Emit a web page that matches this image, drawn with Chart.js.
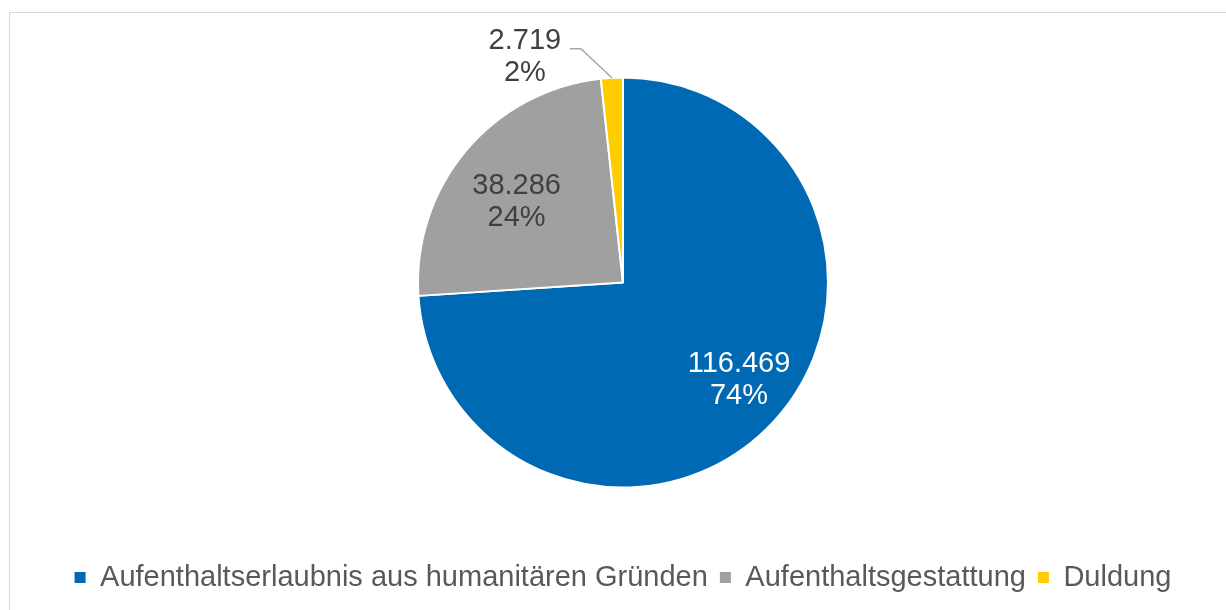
<!DOCTYPE html>
<html lang="de">
<head>
<meta charset="utf-8">
<title>Schutzstatus</title>
<script src="https://cdn.jsdelivr.net/npm/chart.js@4.4.1/dist/chart.umd.min.js"></script>
<style>
    html, body { margin: 0; padding: 0; background: #fff; }
    .frame {
        position: absolute;
        left: 9px;
        top: 12px;
        width: 1217px;
        height: 598px;
        border-top: 1px solid #d9d9d9;
        border-left: 1px solid #d9d9d9;
        box-sizing: border-box;
    }
</style>
</head>
<body>
<div class="frame">
    <canvas id="statusChart"></canvas>
</div>
<script>
const categories = ['Aufenthaltserlaubnis aus humanitären Gründen', 'Aufenthaltsgestattung', 'Duldung'];
const counts = [116469, 38286, 2719];
const sliceColors = ['#0069b4', '#a0a0a0', '#ffcc00'];
const labelColors = ['#ffffff', '#404040', '#404040'];

const FONT = '"Liberation Sans", Arial, Helvetica, sans-serif';
// how far out (share of the radius) the inside labels sit
const labelRadius = [0.74, 0.65];

function formatCount(n) {
    return n.toLocaleString('de-DE');
}

// data labels: value and share, the small slice gets an outside label with a leader line
const sliceLabels = {
    id: 'sliceLabels',
    afterDatasetsDraw(chart) {
        const ctx = chart.ctx;
        const meta = chart.getDatasetMeta(0);
        const total = counts.reduce((a, b) => a + b, 0);
        ctx.save();
        ctx.font = '29px ' + FONT;
        ctx.textBaseline = 'middle';
        meta.data.forEach((arc, i) => {
            const p = arc.getProps(['x', 'y', 'startAngle', 'endAngle', 'outerRadius']);
            const mid = (p.startAngle + p.endAngle) / 2;
            const pct = Math.round(counts[i] / total * 100) + '%';
            const lines = [formatCount(counts[i]), pct];
            ctx.fillStyle = labelColors[i];
            if (p.endAngle - p.startAngle > 0.3) {
                const a = mid - 3 * Math.PI / 180;
                const r = p.outerRadius * labelRadius[i];
                const cx = p.x + Math.cos(a) * r;
                const cy = p.y + Math.sin(a) * r;
                ctx.textAlign = 'center';
                ctx.fillText(lines[0], cx, cy - 16);
                ctx.fillText(lines[1], cx, cy + 16);
            } else {
                const ex = p.x + Math.cos(mid) * p.outerRadius;
                const ey = p.y + Math.sin(mid) * p.outerRadius;
                const kx = ex - 31;
                const ky = ey - 29;
                ctx.strokeStyle = '#a6a6a6';
                ctx.lineWidth = 1.5;
                ctx.beginPath();
                ctx.moveTo(ex, ey);
                ctx.lineTo(kx, ky);
                ctx.lineTo(kx - 11, ky);
                ctx.stroke();
                const tx = kx - 56;
                ctx.textAlign = 'center';
                ctx.fillText(lines[0], tx, ky - 8);
                ctx.fillText(lines[1], tx, ky + 24);
            }
        });
        ctx.restore();
    }
};

new Chart(document.getElementById('statusChart'), {
    type: 'pie',
    data: {
        labels: categories,
        datasets: [{
            data: counts,
            backgroundColor: sliceColors,
            borderColor: '#ffffff',
            borderWidth: 2,
            radius: 205
        }]
    },
    options: {
        responsive: true,
        maintainAspectRatio: false,
        animation: false,
        layout: {
            padding: { top: 1, left: 10, right: 0, bottom: 8 }
        },
        plugins: {
            tooltip: { enabled: false },
            legend: {
                position: 'bottom',
                labels: {
                    color: '#595959',
                    font: { size: 29, family: FONT },
                    boxWidth: 11,
                    boxHeight: 11,
                    padding: 12,
                    generateLabels(chart) {
                        return Chart.overrides.pie.plugins.legend.labels.generateLabels(chart)
                            .map(item => Object.assign(item, { lineWidth: 0, strokeStyle: item.fillStyle }));
                    }
                }
            }
        }
    },
    plugins: [sliceLabels]
});
</script>
</body>
</html>
